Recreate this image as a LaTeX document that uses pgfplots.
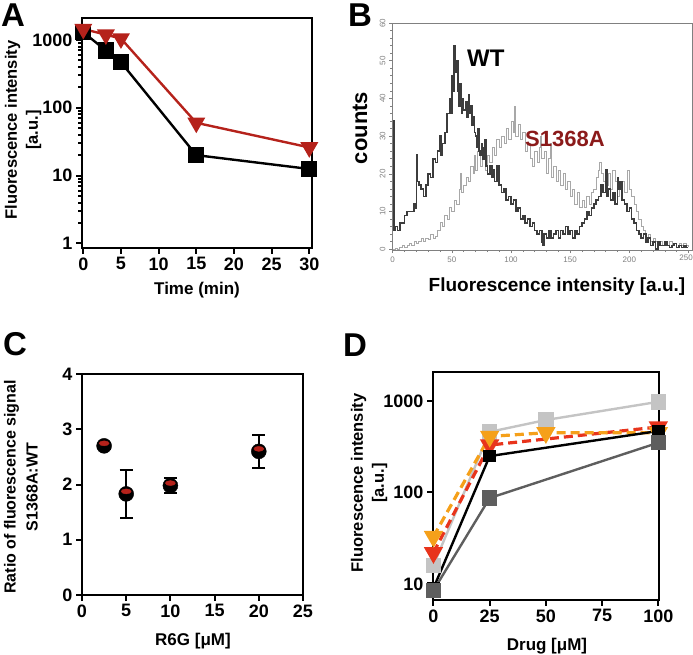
\documentclass[border=0pt]{standalone}
\usepackage{pgfplots}
\pgfplotsset{compat=1.18}
\usepackage{fontspec}
\setmainfont{Liberation Sans}
\definecolor{ared}{HTML}{B5221B}
\definecolor{sred}{HTML}{8B1A1A}
\definecolor{wtgray}{HTML}{3C3C3C}
\definecolor{mutgray}{HTML}{A8A8A8}
\definecolor{lgray}{HTML}{C4C4C4}
\definecolor{dgray}{HTML}{5E5E5E}
\definecolor{dred}{HTML}{E8341C}
\definecolor{dorange}{HTML}{F5A01A}
\pgfplotsset{
  gp/.style={scale only axis, anchor=south west, clip=false,
    tick align=outside, xtick pos=left, ytick pos=left,
    axis line style={line width=2.6pt},
    every tick/.style={line width=2pt, black},
    major tick length=6pt, minor tick length=4pt,
    tick label style={font=\bfseries\fontsize{18}{18}\selectfont},
    /pgf/number format/assume math mode=true}
}
\newcommand{\lab}[1]{\bfseries\fontsize{#1}{#1}\selectfont}
\newcommand{\labb}[2]{\bfseries\fontsize{#1}{#2}\selectfont}
\begin{document}
\begin{tikzpicture}
\useasboundingbox (0pt,0pt) rectangle (693pt,-654pt);
% ---------------- A ----------------
\begin{axis}[gp, at={(82pt,-248pt)}, width=230pt, height=230pt,
  xmin=-0.17, xmax=30.36, ymode=log, ymin=0.853, ymax=2110,
  xtick={0,5,...,30}, ytick={1,10,100,1000}, yticklabels={1,10,100,1000}]
\addplot[black, line width=2.4pt, mark=square*, mark size=7pt] coordinates {(0,1300) (3,700) (5,470) (15,20) (30,12.5)};
\addplot[ared, line width=2.4pt, mark=triangle*, mark size=8pt, mark options={rotate=180}] coordinates {(0,1450) (3,1200) (5,1050) (15,60) (30,26)};
\end{axis}
\node[rotate=90, align=center, font=\labb{16.5}{21}] at (23pt,-130pt) {Fluorescence intensity\\{}[a.u.]};
\node[font=\lab{17}] at (197pt,-290pt) {Time (min)};
\node[font=\lab{33}, anchor=base west, inner sep=0pt] at (1pt,-26pt) {A};
% ---------------- B ----------------
\begin{axis}[scale only axis, anchor=south west, at={(392pt,-250pt)}, width=300pt, height=227pt,
  xmin=-0.6, xmax=253, ymin=-0.2, ymax=60,
  axis line style={gray, line width=0.8pt},
  tick align=outside, xtick pos=left, ytick pos=left,
  xtick={0,50,...,250}, ytick={0,10,...,60}, minor x tick num=4, minor y tick num=4,
  every tick/.style={gray, line width=0.6pt}, major tick length=3pt, minor tick length=2pt,
  tick label style={font=\fontsize{8}{8}\selectfont, text=gray},
  xticklabels={0,50,100,150,200,},
  yticklabel style={rotate=90},
  /pgf/number format/assume math mode=true]
\addplot[const plot, draw=mutgray, line width=0.8pt] coordinates {
(0,0) (2,0.3) (4,0) (6,0.5) (8,1) (10,0.5) (12,1) (14,1.5) (16,1) (18,2) (20,1.5) (22,2) (24,3) (26,2) (28,3) (30,2.5) (32,4) (34,3) (36,3.5) (38,5) (40,7) (42,6) (44,9) (46,8) (48,11) (50,10) (52,13) (54,12) (56,16) (57,20) (58,15) (60,17) (62,19) (64,18) (66,22) (68,20) (69,25) (70,21) (72,26) (74,22) (76,24) (78,21) (80,25) (82,23) (84,27) (86,25) (88,29) (90,27) (92,30) (94,28) (96,32) (98,29) (100,34) (102,31) (103,38) (104,30) (106,33) (108,29) (110,31) (112,26) (114,28) (116,24) (118,22) (120,26) (122,23) (124,27) (125,30) (126,24) (128,26) (130,20) (132,24) (133,28) (134,19) (136,22) (138,18) (140,21) (142,17) (144,20) (146,16) (148,18) (150,14) (152,16) (154,12) (156,15) (158,11) (160,13) (162,11) (164,14) (166,12) (168,15) (170,16) (172,19) (174,21) (175,23) (176,20) (178,18) (180,17) (182,20) (184,16) (186,21) (188,18) (190,14) (192,16) (194,18) (196,15) (198,21) (200,16) (202,14) (204,12) (206,10) (208,8) (210,6) (212,5) (214,3) (216,4) (218,2) (220,3) (222,2) (224,1) (226,2) (228,1) (230,1.5) (232,1) (234,2) (236,1) (238,1.5) (240,0.5) (242,1.5) (244,1) (246,1.5) (248,1) (250,0.5)};
\addplot[const plot, draw=wtgray, line width=1.6pt] coordinates {
(0,34) (1,5) (2,6) (4,5) (6,7) (8,7) (10,9) (12,10) (14,10) (16,10) (18,12) (19,11) (20,25) (21,18) (22,17) (24,16) (26,14) (28,17) (30,20) (32,19) (34,24) (36,23) (38,26) (40,30) (41,25) (42,28) (44,31) (46,36) (48,40) (49,36) (50,46) (51,42) (52,54) (53,47) (54,50) (55,42) (56,38) (57,44) (58,36) (59,40) (60,37) (62,39) (63,35) (64,41) (65,36) (66,38) (67,33) (68,35) (69,31) (70,30) (71,27) (72,32) (73,26) (74,25) (75,28) (76,24) (77,27) (78,29) (79,22) (80,20) (82,22) (84,19) (85,21) (86,18) (88,22) (90,17) (92,15) (94,16) (96,13) (98,14) (100,12) (102,13) (104,10) (106,11) (108,8) (110,9) (112,7) (114,8) (116,6) (118,7) (120,5) (122,4) (124,5) (126,2) (127,1) (128,4) (130,3) (132,5) (134,3) (136,4) (138,5) (140,3) (142,5) (144,4) (146,6) (148,4) (150,5) (152,3) (154,5) (156,4) (158,6) (160,7) (162,8) (164,10) (166,9) (168,11) (170,12) (172,13) (174,14) (176,17) (178,15) (180,21) (181,14) (182,16) (184,13) (186,15) (188,12) (190,19) (191,16) (192,18) (194,13) (196,12) (198,10) (200,11) (202,8) (204,7) (206,5) (208,4) (210,3) (212,4) (214,2) (216,3) (218,1) (220,2) (222,0) (224,2) (226,1) (228,1) (230,2) (232,1) (234,0.5) (236,1) (238,1.5) (240,0.5) (242,1) (244,0.5) (246,1) (248,0.5) (250,0.5)};
\node[font=\lab{24}, anchor=base west, inner sep=0pt] at (axis cs:62.8,48.4) {WT};
\node[font=\lab{22}, anchor=base west, inner sep=0pt, text=sred] at (axis cs:111.8,27.2) {S1368A};
\end{axis}
\node[font=\fontsize{8}{8}\selectfont, text=gray, anchor=east, inner sep=0pt] at (693pt,-258pt) {250};
\node[rotate=90, font=\lab{22}] at (360pt,-128pt) {counts};
\node[font=\lab{19}] at (557pt,-287pt) {Fluorescence intensity [a.u.]};
\node[font=\lab{33}, anchor=base west, inner sep=0pt] at (348pt,-26pt) {B};
% ---------------- C ----------------
\begin{axis}[gp, at={(82pt,-595pt)}, width=221pt, height=221pt,
  xmin=0, xmax=25, ymin=0, ymax=4, xtick={0,5,...,25}, ytick={0,1,2,3,4}]
\addplot[only marks, black, mark=*, mark size=7.5pt,
  error bars/.cd, y dir=both, y explicit,
  error bar style={line width=2pt, black},
  error mark options={rotate=90, mark size=6.5pt, line width=2pt, black}]
  coordinates {(2.5,2.7) +- (0,0.05) (5,1.83) +- (0,0.43) (10,1.98) +- (0,0.14) (20,2.6) +- (0,0.3)};
\addplot[only marks, ared, mark=*, mark size=5pt, mark options={yshift=2.5pt, yscale=0.5}]
  coordinates {(2.5,2.7) (5,1.83) (10,1.98) (20,2.6)};
\end{axis}
\node[rotate=90, align=center, font=\labb{16}{22}] at (21pt,-487pt) {Ratio of fluorescence signal\\S1368A:WT};
\node[font=\lab{17}] at (193pt,-641pt) {R6G [μM]};
\node[font=\lab{33}, anchor=base west, inner sep=0pt] at (3pt,-355pt) {C};
% ---------------- D ----------------
\begin{axis}[gp, at={(433pt,-600pt)}, width=226pt, height=228pt,
  xmin=-0.2, xmax=100.3, ymode=log, ymin=6.68, ymax=2075, yminorticks=false,
  xtick={0,25,50,75,100}, ytick={10,100,1000}, yticklabels={10,100,1000}]
\addplot[lgray, line width=2.4pt, mark=square*, mark size=6.5pt] coordinates {(0,16) (25,460) (50,620) (100,980)};
\addplot[dred, line width=3.2pt, dash pattern=on 9pt off 5pt, mark=triangle*, mark size=8pt, mark options={solid, rotate=180}] coordinates {(0,22) (25,330) (100,520)};
\addplot[dorange, line width=3.2pt, dash pattern=on 9pt off 5pt, mark=triangle*, mark size=8pt, mark options={solid, rotate=180}] coordinates {(0,33) (25,410) (50,450) (100,450)};
\addplot[black, line width=2.4pt, mark=square*, mark size=5pt] coordinates {(0,9) (25,250) (100,470)};
\addplot[dgray, line width=2.4pt, mark=square*, mark size=6.5pt] coordinates {(0,8.5) (25,87) (100,350)};
\end{axis}
\node[rotate=90, align=center, font=\labb{16.5}{21}] at (369pt,-483pt) {Fluorescence intensity\\{}[a.u.]};
\node[font=\lab{17}] at (547pt,-646pt) {Drug [μM]};
\node[font=\lab{33}, anchor=base west, inner sep=0pt] at (343pt,-356pt) {D};
\end{tikzpicture}
\end{document}
